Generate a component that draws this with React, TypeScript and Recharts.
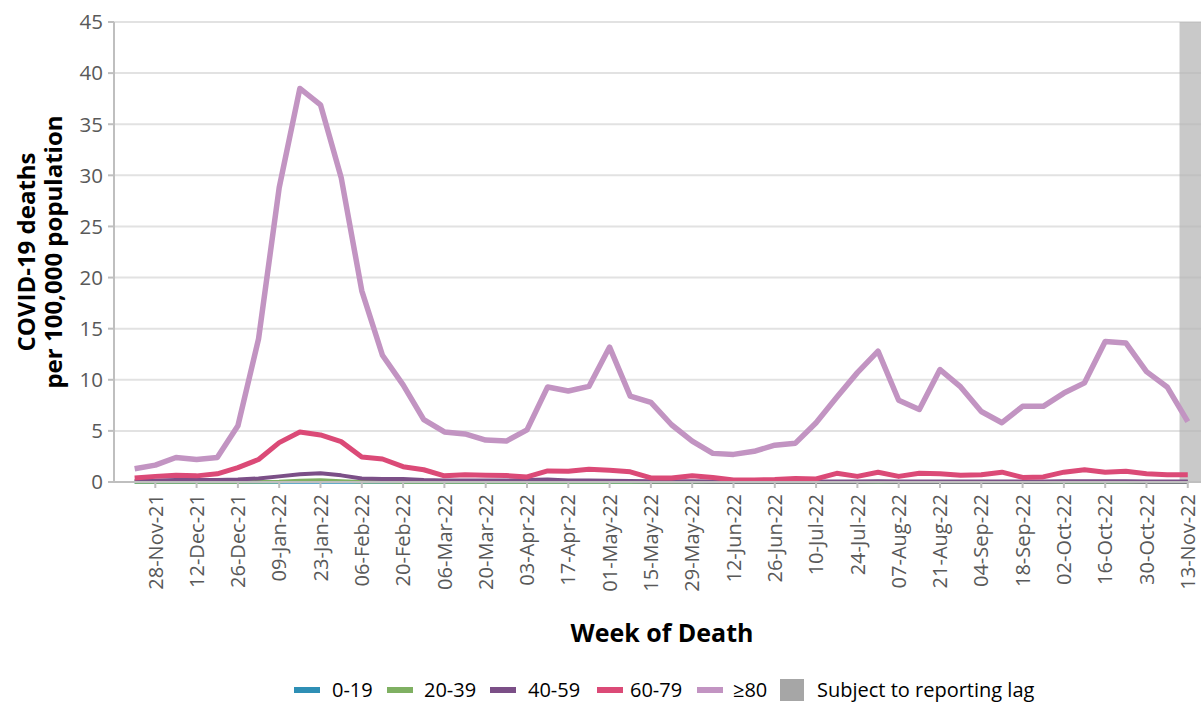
import React from "react";
import { LineChart, Line, XAxis, YAxis, CartesianGrid, ReferenceArea } from "recharts";

const weeks = ["21-Nov-21","28-Nov-21","05-Dec-21","12-Dec-21","19-Dec-21","26-Dec-21","02-Jan-22","09-Jan-22","16-Jan-22","23-Jan-22","30-Jan-22","06-Feb-22","13-Feb-22","20-Feb-22","27-Feb-22","06-Mar-22","13-Mar-22","20-Mar-22","27-Mar-22","03-Apr-22","10-Apr-22","17-Apr-22","24-Apr-22","01-May-22","08-May-22","15-May-22","22-May-22","29-May-22","05-Jun-22","12-Jun-22","19-Jun-22","26-Jun-22","03-Jul-22","10-Jul-22","17-Jul-22","24-Jul-22","31-Jul-22","07-Aug-22","14-Aug-22","21-Aug-22","28-Aug-22","04-Sep-22","11-Sep-22","18-Sep-22","25-Sep-22","02-Oct-22","09-Oct-22","16-Oct-22","23-Oct-22","30-Oct-22","06-Nov-22","13-Nov-22"];

const age0to19 = [0,0,0,0,0,0,0,0,0,0,0,0,0,0,0,0,0,0,0,0,0,0,0,0,0,0,0,0,0,0,0,0,0,0,0,0,0,0,0,0,0,0,0,0,0,0,0,0,0,0,0,0];
const age20to39 = [0.01,0.01,0.01,0.01,0.01,0.01,0.02,0.05,0.15,0.2,0.1,0.03,0.02,0.01,0.01,0.01,0.01,0.01,0.01,0.01,0.01,0.01,0.01,0.01,0.01,0.01,0.01,0.01,0.01,0.01,0.01,0.01,0.01,0.01,0.01,0.01,0.01,0.01,0.01,0.01,0.01,0.01,0.01,0.01,0.01,0.01,0.01,0.01,0.01,0.01,0.01,0.01];
const age40to59 = [0.1,0.15,0.2,0.2,0.2,0.25,0.35,0.55,0.75,0.85,0.65,0.35,0.3,0.3,0.2,0.15,0.15,0.15,0.15,0.2,0.25,0.15,0.15,0.12,0.1,0.08,0.08,0.08,0.06,0.05,0.05,0.05,0.05,0.05,0.06,0.06,0.07,0.06,0.06,0.06,0.06,0.06,0.06,0.06,0.06,0.07,0.07,0.07,0.07,0.06,0.06,0.06];
const age60to79 = [0.4,0.55,0.66,0.6,0.8,1.4,2.2,3.85,4.9,4.6,3.95,2.45,2.25,1.5,1.2,0.6,0.72,0.66,0.63,0.5,1.08,1.05,1.25,1.15,1.0,0.4,0.4,0.62,0.45,0.2,0.2,0.25,0.35,0.3,0.85,0.55,0.96,0.55,0.85,0.8,0.65,0.7,0.96,0.45,0.5,0.96,1.2,0.96,1.05,0.8,0.7,0.7];
const age80plus = [1.3,1.65,2.4,2.2,2.4,5.5,14.0,28.8,38.5,36.9,29.8,18.7,12.4,9.5,6.1,4.9,4.7,4.1,4.0,5.1,9.3,8.9,9.35,13.2,8.4,7.8,5.6,4.0,2.8,2.7,3.0,3.6,3.8,5.8,8.3,10.7,12.8,8.0,7.1,11.0,9.3,6.9,5.8,7.4,7.4,8.7,9.7,13.75,13.6,10.8,9.3,5.9];

const yTicks = [0,5,10,15,20,25,30,35,40,45];
const xTicks = weeks.map((_, i) => i).filter((i) => i % 2 === 1);

const lagStart = 50.6;
const xMin = -1;
const xMax = 51.64;

const data = weeks.map((w, i) => ({
  idx: i,
  week: w,
  a: age0to19[i],
  b: age20to39[i],
  c: age40to59[i],
  d: age60to79[i],
  e: age80plus[i],
}));

const FONT = "'Open Sans', 'DejaVu Sans', sans-serif";

const XTick = (props: any) => {
  const { x, y, payload } = props;
  return (
    <g transform={`translate(${x},${y})`}>
      <text transform="rotate(-90)" x={0} y={0} dy="0.36em" textAnchor="end" fill="#595959" fontSize={20} fontFamily={FONT}>
        {weeks[payload.value]}
      </text>
    </g>
  );
};

const YTick = (props: any) => {
  const { x, y, payload } = props;
  return (
    <text x={x} y={y} dy="0.36em" textAnchor="end" fill="#595959" fontSize={20.5} fontFamily={FONT}>
      {payload.value}
    </text>
  );
};

const legendItems = [
  { label: "0-19", color: "#2e8fb5", sw: 294, tx: 332 },
  { label: "20-39", color: "#7fb062", sw: 387, tx: 424 },
  { label: "40-59", color: "#7b4f87", sw: 490, tx: 528 },
  { label: "60-79", color: "#db4a77", sw: 597, tx: 630 },
  { label: "\u226580", color: "#c294c2", sw: 697, tx: 733 },
];

export default function App() {
  return (
    <div style={{ position: "absolute", left: 0, top: 0, width: 1201, height: 702, background: "#fff" }}>
      <LineChart width={1201} height={702} data={data} margin={{ top: 22, right: 0, bottom: 0, left: 0 }}>
        <CartesianGrid horizontal={true} vertical={false} stroke="#e2e2e2" strokeWidth={2} />
        <ReferenceArea x1={lagStart} x2={xMax} y1={0} y2={45} fill="#b4b4b4" fillOpacity={0.72} stroke="none" ifOverflow="hidden" />
        <XAxis
          dataKey="idx"
          type="number"
          domain={[xMin, xMax]}
          ticks={xTicks}
          interval={0}
          allowDataOverflow
          height={220}
          tick={<XTick />}
          tickSize={6}
          tickMargin={6}
          axisLine={{ stroke: "#bfbfbf", strokeWidth: 2 }}
          tickLine={{ stroke: "#bfbfbf", strokeWidth: 2 }}
        />
        <YAxis
          type="number"
          domain={[0, 45]}
          ticks={yTicks}
          interval={0}
          width={114}
          tick={<YTick />}
          tickSize={6}
          tickMargin={5}
          axisLine={{ stroke: "#bfbfbf", strokeWidth: 2 }}
          tickLine={{ stroke: "#bfbfbf", strokeWidth: 2 }}
        />
        <Line dataKey="a" stroke="#2e8fb5" strokeWidth={3.5} dot={false} isAnimationActive={false} strokeLinejoin="round" />
        <Line dataKey="b" stroke="#7fb062" strokeWidth={3.5} dot={false} isAnimationActive={false} strokeLinejoin="round" />
        <Line dataKey="c" stroke="#7b4f87" strokeWidth={4} dot={false} isAnimationActive={false} strokeLinejoin="round" />
        <Line dataKey="d" stroke="#db4a77" strokeWidth={5} dot={false} isAnimationActive={false} strokeLinejoin="round" />
        <Line dataKey="e" stroke="#c294c2" strokeWidth={5.5} dot={false} isAnimationActive={false} strokeLinejoin="round" />
      </LineChart>
      <svg width={1201} height={702} style={{ position: "absolute", left: 0, top: 0, pointerEvents: "none" }}>
        <text transform="translate(35,252) rotate(-90)" textAnchor="middle" fontSize={24} fontWeight="bold" fill="#000" fontFamily={FONT}>
          <tspan x={0} y={0}>COVID-19 deaths</tspan>
          <tspan x={0} y={27}>per 100,000 population</tspan>
        </text>
        <text x={662} y={642} textAnchor="middle" fontSize={25} fontWeight="bold" fill="#000" fontFamily={FONT}>Week of Death</text>
        {legendItems.map((it) => (
          <g key={it.label}>
            <rect x={it.sw} y={687} width={26} height={6} fill={it.color} />
            <text x={it.tx} y={690} dy="0.36em" fontSize={20} fill="#000" fontFamily={FONT}>{it.label}</text>
          </g>
        ))}
        <rect x={780} y={679} width={24} height={22} fill="#a6a6a6" />
        <text x={817} y={690} dy="0.36em" fontSize={20} fill="#000" fontFamily={FONT}>Subject to reporting lag</text>
      </svg>
    </div>
  );
}
